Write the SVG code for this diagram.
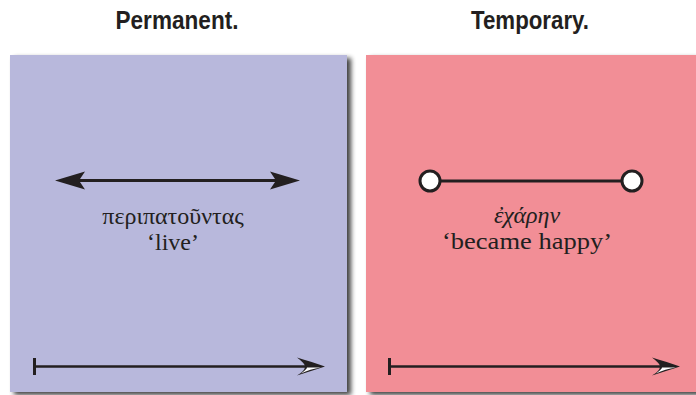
<svg xmlns="http://www.w3.org/2000/svg" width="696" height="395" viewBox="0 0 696 395">
<style>
.title{font-family:"Liberation Sans Narrow","Liberation Sans",Arial,sans-serif;font-weight:bold;font-size:25px;fill:#231f20;text-anchor:middle}
.lbl{font-family:"Liberation Serif","DejaVu Serif",serif;font-size:24px;fill:#231f20;text-anchor:middle}
.ln{stroke:#231f20;fill:none}
.dot{fill:#fff;stroke:#231f20;stroke-width:3}
.ink{fill:#231f20}
</style>
<defs>
<filter id="sh" x="-5%" y="-5%" width="115%" height="115%">
<feGaussianBlur in="SourceAlpha" stdDeviation="2.5"/>
<feOffset dx="4" dy="3" result="o"/>
<feComponentTransfer><feFuncA type="linear" slope="0.75"/></feComponentTransfer>
<feMerge><feMergeNode/><feMergeNode in="SourceGraphic"/></feMerge>
</filter>
<path id="head" class="ink" d="M0,0 L-30,-9 L-24,0 L-30,9 Z"/>
<g id="head3d">
<path class="ink" d="M0,0 Q-16,-5.5 -28,-9 Q-20,-3 -20,0 Q-20,4.5 -28,9 Q-14,4.5 0,0 Z"/>
<path fill="#fff" d="M-4,1 Q-15,2.5 -24,7 Q-18,2.5 -18,1 Z"/>
</g>
</defs>
<g id="titles">
<text class="title" x="177" y="29" textLength="123" lengthAdjust="spacingAndGlyphs">Permanent.</text>
<text class="title" x="530" y="29" textLength="118" lengthAdjust="spacingAndGlyphs">Temporary.</text>
</g>
<g id="permanent">
<rect x="10" y="55" width="337" height="337" fill="#b8b8dc" filter="url(#sh)"/>
<text class="lbl" x="173" y="224">περιπατοῦντας</text>
<text class="lbl" x="173" y="250">‘live’</text>
</g>
<g id="temporary">
<rect x="366" y="55" width="340" height="337" fill="#f28e96" filter="url(#sh)"/>
<text class="lbl" x="527" y="223" font-style="italic">ἐχάρην</text>
<text class="lbl" x="527" y="249" font-size="25" textLength="170" lengthAdjust="spacingAndGlyphs">‘became happy’</text>
</g>
<g id="connectors">
<line class="ln" x1="70" y1="180.5" x2="285" y2="180.5" stroke-width="3"/>
<use href="#head" transform="translate(300,180.5)"/>
<use href="#head" transform="translate(55,180.5) scale(-1,1)"/>
<line class="ln" x1="430" y1="181" x2="632" y2="181" stroke-width="3"/>
<circle class="dot" cx="430" cy="181" r="10"/>
<circle class="dot" cx="632" cy="181" r="10"/>
<line class="ln" x1="34" y1="366.5" x2="308" y2="366.5" stroke-width="2.5"/>
<line class="ln" x1="34.5" y1="358" x2="34.5" y2="375" stroke-width="3"/>
<use href="#head3d" transform="translate(325,366.5)"/>
<line class="ln" x1="389" y1="366.5" x2="663" y2="366.5" stroke-width="2.5"/>
<line class="ln" x1="389.5" y1="358" x2="389.5" y2="375" stroke-width="3"/>
<use href="#head3d" transform="translate(680,366.5)"/>
</g>
</svg>
